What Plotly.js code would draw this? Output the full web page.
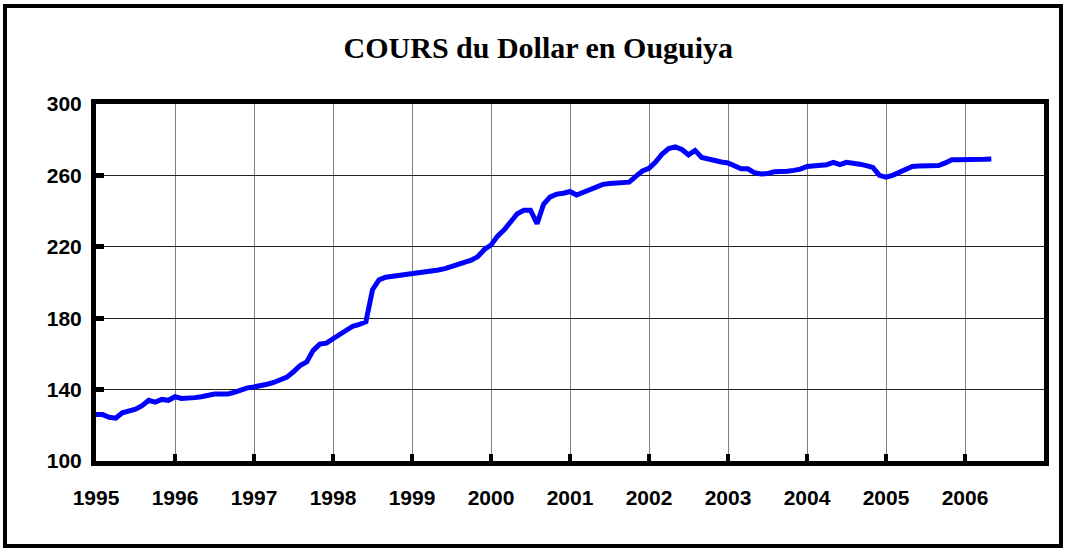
<!DOCTYPE html>
<html>
<head>
<meta charset="utf-8">
<script src="https://cdn.plot.ly/plotly-3.0.1.min.js"></script>
<style>
  html, body { margin: 0; padding: 0; background: #fff; }
  #wrap { position: relative; width: 1066px; height: 550px; }
  #chart { width: 1066px; height: 550px; }
  #frame { position: absolute; left: 3px; top: 4px; width: 1052px; height: 536px;
           border: 4px solid #000; pointer-events: none; }
</style>
</head>
<body>
<div id="wrap">
  <div id="chart"></div>
  <div id="frame"></div>
</div>
<script>
// Monthly USD / Ouguiya exchange rate, Jan 1995 .. May 2006
const startYear = 1995;
const rates = [
  // 1995
  126, 126, 124.5, 124, 127, 128, 129, 131, 134, 133, 134.5, 134,
  // 1996
  136, 135, 135, 135.5, 136, 137, 137.5, 137.5, 137.5, 138.5, 140, 141,
  // 1997
  141.5, 142, 143, 144, 145.5, 147, 150, 153.5, 155.5, 162, 165.5, 166,
  // 1998
  168.5, 171, 173.5, 175.5, 176.5, 178, 196, 201.5, 203, 203.5, 204, 204.5,
  // 1999
  204.8, 205, 205.5, 206, 207, 207.8, 209, 210.5, 211.5, 212.5, 214.5, 218.5,
  // 2000
  221, 226, 229.5, 233.5, 238.5, 240.5, 240.5, 233, 244, 248, 249.5, 250,
  // 2001
  251, 249, 250.5, 252, 253.5, 255, 255.5, 255.7, 255.8, 256.2, 259.5, 262.5,
  // 2002
  264, 267.5, 272, 275, 276, 274.5, 271.5, 274, 270, 269, 268, 267.5,
  // 2003
  267, 265, 263.7, 263.7, 261.5, 260.8, 261, 262, 262, 262.3, 262.8, 263.5,
  // 2004
  265, 265.5, 265.7, 266, 267.3, 266, 267.3, 267, 266.3, 265.5, 264.5, 260,
  // 2005
  259, 260, 261.5, 263.5, 265, 265.3, 265.4, 265.5, 265.5, 267, 268.8, 268.7,
  // 2006
  268.6, 268.6, 268.7, 269, 269.2
];
const yearTicks = [1995, 1996, 1997, 1998, 1999, 2000, 2001, 2002, 2003, 2004, 2005, 2006, 2007];
const yearLabels = ['1995', '1996', '1997', '1998', '1999', '2000', '2001', '2002', '2003', '2004', '2005', '2006', ''];
const yTicks = [100, 140, 180, 220, 260, 300];
const titleText = 'COURS du Dollar en Ouguiya';

// month positions (time axis), one per value
const months = rates.map((_, i) => startYear + i / 12);

const trace = {
  x: months,
  y: rates,
  type: 'scatter',
  mode: 'lines',
  line: { color: '#0000FF', width: 5 },
  hoverinfo: 'x+y'
};

const axisFont = { family: 'Arial, Liberation Sans, sans-serif', size: 21, color: '#000', weight: 'bold' };

const layout = {
  width: 1066,
  height: 550,
  margin: { l: 96, r: 22, t: 104, b: 89 },
  paper_bgcolor: '#fff',
  plot_bgcolor: '#fff',
  showlegend: false,
  title: {
    text: '<b>' + titleText + '</b>',
    font: { family: 'Liberation Serif, Times New Roman, serif', size: 30, color: '#000' },
    xref: 'container', x: 0.505, xanchor: 'center',
    yref: 'container', y: 1 - 47 / 550, yanchor: 'middle'
  },
  xaxis: {
    range: [1995, 2007],
    tickmode: 'array',
    tickvals: yearTicks,
    ticktext: yearLabels,
    ticks: 'inside', ticklen: 7, tickwidth: 4, tickcolor: '#000',
    showgrid: true, gridcolor: '#808080', gridwidth: 1,
    showline: true, linecolor: '#000', linewidth: 5, mirror: true,
    zeroline: false,
    tickfont: axisFont,
    ticklabelstandoff: 14
  },
  yaxis: {
    range: [100, 300],
    tickmode: 'array',
    tickvals: yTicks,
    ticktext: yTicks.map(String),
    ticks: 'inside', ticklen: 8, tickwidth: 5, tickcolor: '#000',
    showgrid: true, gridcolor: '#222', gridwidth: 1,
    showline: true, linecolor: '#000', linewidth: 5, mirror: true,
    zeroline: false,
    tickfont: axisFont,
    ticklabelstandoff: 5
  }
};

Plotly.newPlot('chart', [trace], layout, { displayModeBar: false, staticPlot: true });
</script>
</body>
</html>
